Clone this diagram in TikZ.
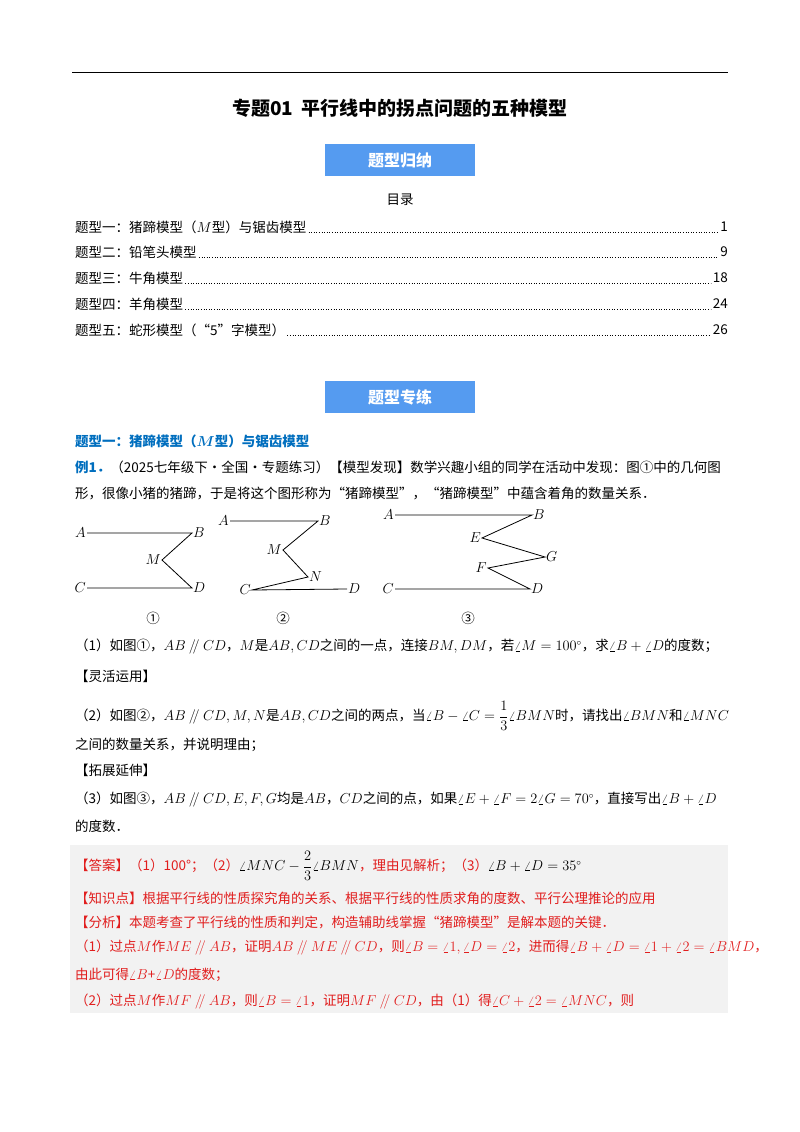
\documentclass[tikz,border=0pt]{standalone}
\usepackage{fontspec}
\setmainfont{Noto Sans CJK SC}
\usepackage{amsmath}
\definecolor{ansred}{RGB}{225,30,30}
\definecolor{hblue}{RGB}{0,110,190}
\definecolor{bann}{RGB}{85,155,240}
\definecolor{boxg}{RGB}{242,242,242}
\begin{document}
\begin{tikzpicture}[x=1pt,y=-1pt,
  txt/.style={anchor=west,inner sep=0pt,font=\fontsize{13.5}{16}\selectfont},
  rtxt/.style={txt,text=ansred},
  lbl/.style={inner sep=1pt,font=\fontsize{14}{16}\selectfont},
  seg/.style={line width=0.8pt},
  bannerbox/.style={fill=bann,minimum width=150,minimum height=32,text=white,font=\fontsize{16}{18}\selectfont\bfseries}]
\useasboundingbox (0,0) rectangle (800,1132);
\draw[line width=0.8pt] (72,72) -- (728,72);
\node[font=\fontsize{19}{22}\selectfont\bfseries] (title) at (400,108) {专题01\ \ 平行线中的拐点问题的五种模型};
% banner 1
\node[bannerbox] (b1) at (400,160) {题型归纳};
\node[font=\fontsize{13.5}{16}\selectfont] (ml) at (400,200) {目录};
\foreach \y/\t/\p [count=\i] in {227/题型一：猪蹄模型（$M$型）与锯齿模型/1,252/题型二：铅笔头模型/9,278/题型三：牛角模型/18,304/题型四：羊角模型/24,330/题型五：蛇形模型（“5”字模型）/26}{
  \node[txt] (t\i) at (75,\y) {\t};
  \node[txt,anchor=east] (p\i) at (728,\y) {\p};
  \draw[dotted,line width=0.6pt] ([xshift=2pt,yshift=-5pt]t\i.east) -- ([xshift=-2pt,yshift=-5pt]p\i.west);
}
\node[bannerbox] (b2) at (400,397) {题型专练};
\node[txt,text=hblue,font=\fontsize{13.5}{16}\selectfont\bfseries] (h1) at (75,441) {题型一：猪蹄模型（$\boldsymbol{M}$型）与锯齿模型};
\node[txt] (l1) at (75,467) {{\color{hblue}\bfseries 例1．}（2025七年级下·全国·专题练习）【模型发现】数学兴趣小组的同学在活动中发现：图①中的几何图};
\node[txt] (l2) at (75,493) {形，很像小猪的猪蹄，于是将这个图形称为“猪蹄模型”，“猪蹄模型”中蕴含着角的数量关系．};
% figure 1
\coordinate (A1) at (87,533); \coordinate (B1) at (192,533); \coordinate (M1) at (162,560);
\coordinate (C1) at (87,588); \coordinate (D1) at (192,588);
\draw[seg] (A1) -- (B1) -- (M1) -- (D1) -- (C1);
\node[lbl,anchor=east] (la1) at (A1) {$A$}; \node[lbl,anchor=west] (lb1) at (B1) {$B$};
\node[lbl,anchor=east] (lm1) at (M1) {$M$}; \node[lbl,anchor=east] (lc1) at (C1) {$C$};
\node[lbl,anchor=west] (ld1) at (D1) {$D$};
% figure 2
\coordinate (A2) at (230,521); \coordinate (B2) at (318,521); \coordinate (M2) at (283,550);
\coordinate (N2) at (308,577); \coordinate (C2) at (252,590); \coordinate (D2) at (347,589);
\draw[seg] (A2) -- (B2) -- (M2) -- (N2) -- (C2) -- (D2);
\node[lbl,anchor=east] (la2) at (A2) {$A$}; \node[lbl,anchor=west] (lb2) at (B2) {$B$};
\node[lbl,anchor=east] (lm2) at (M2) {$M$}; \node[lbl,anchor=west] (ln2) at (N2) {$N$};
\node[lbl,anchor=east] (lc2) at (C2) {$C$}; \node[lbl,anchor=west] (ld2) at (D2) {$D$};
% figure 3
\coordinate (A3) at (395,515); \coordinate (B3) at (532,515); \coordinate (E3) at (482,538);
\coordinate (G3) at (545,557); \coordinate (F3) at (488,568); \coordinate (D3) at (530,589);
\coordinate (C3) at (395,589);
\draw[seg] (A3) -- (B3) -- (E3) -- (G3) -- (F3) -- (D3) -- (C3);
\node[lbl,anchor=east] (la3) at (A3) {$A$}; \node[lbl,anchor=west] (lb3) at (B3) {$B$};
\node[lbl,anchor=east] (le3) at (E3) {$E$}; \node[lbl,anchor=west] (lg3) at (G3) {$G$};
\node[lbl,anchor=east] (lf3) at (F3) {$F$}; \node[lbl,anchor=west] (ld3) at (D3) {$D$};
\node[lbl,anchor=east] (lc3) at (C3) {$C$};
\node[txt,anchor=center] (n1) at (153,618) {①};
\node[txt,anchor=center] (n2) at (283,618) {②};
\node[txt,anchor=center] (n3) at (468,618) {③};
\node[txt] (q1) at (75,647) {（1）如图①，$AB\mathbin{/\mkern-4mu/}CD$，$M$是$AB,CD$之间的一点，连接$BM,DM$，若$\angle M=100^\circ$，求$\angle B+\angle D$的度数；};
\node[txt] (s1) at (75,676) {【灵活运用】};
\node[txt] (q2) at (75,716) {（2）如图②，$AB\mathbin{/\mkern-4mu/}CD,M,N$是$AB,CD$之间的两点，当$\angle B-\angle C=\dfrac13\angle BMN$时，请找出$\angle BMN$和$\angle MNC$};
\node[txt] (q2b) at (75,745) {之间的数量关系，并说明理由；};
\node[txt] (s2) at (75,770) {【拓展延伸】};
\node[txt] (q3) at (75,800) {（3）如图③，$AB\mathbin{/\mkern-4mu/}CD,E,F,G$均是$AB$，$CD$之间的点，如果$\angle E+\angle F=2\angle G=70^\circ$，直接写出$\angle B+\angle D$};
\node[txt] (q3b) at (75,826) {的度数．};
% answer box
\fill[boxg] (70,845) rectangle (728,1013);
\node[rtxt] (a1) at (75,866) {【答案】（1）100°；（2）{\color{black}$\angle MNC-\dfrac23\angle BMN$}，理由见解析；（3）{\color{black}$\angle B+\angle D=35^\circ$}};
\node[rtxt] (a2) at (75,898) {【知识点】根据平行线的性质探究角的关系、根据平行线的性质求角的度数、平行公理推论的应用};
\node[rtxt] (a3) at (75,922) {【分析】本题考查了平行线的性质和判定，构造辅助线掌握“猪蹄模型”是解本题的关键．};
\node[rtxt] (a4) at (75,948) {（1）过点$M$作$ME\mathbin{/\mkern-4mu/}AB$，证明$AB\mathbin{/\mkern-4mu/}ME\mathbin{/\mkern-4mu/}CD$，则$\angle B=\angle1,\angle D=\angle2$，进而得$\angle B+\angle D=\angle1+\angle2=\angle BMD$，};
\node[rtxt] (a5) at (75,975) {由此可得$\angle B$+$\angle D$的度数；};
\node[rtxt] (a6) at (75,1002) {（2）过点$M$作$MF\mathbin{/\mkern-4mu/}AB$，则$\angle B=\angle1$，证明$MF\mathbin{/\mkern-4mu/}CD$，由（1）得$\angle C+\angle2=\angle MNC$，则};
\end{tikzpicture}
\end{document}
